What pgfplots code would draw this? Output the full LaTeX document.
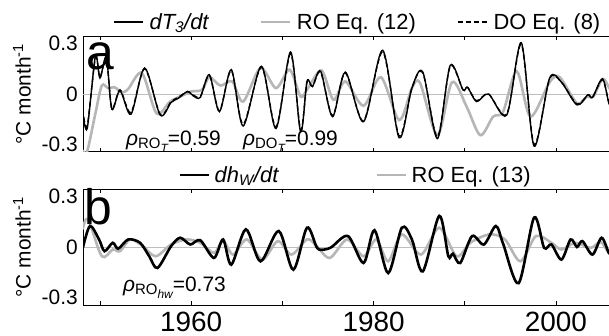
\documentclass[border=0pt]{standalone}
\usepackage{fontspec}
\setmainfont{Liberation Sans}
\usepackage{pgfplots}
\pgfplotsset{compat=1.18}
\definecolor{rogray}{RGB}{182,182,182}
\definecolor{zerogray}{RGB}{190,190,190}
\newcommand{\fs}[1]{\fontsize{#1}{#1}\selectfont}
\begin{document}
\begin{tikzpicture}
\useasboundingbox (0bp,0bp) rectangle (609bp,336bp);
\pgfplotsset{
  panel/.style={
    scale only axis, width=532bp, height=116bp,
    xmin=1948.14, xmax=2006.47, ymin=-0.345, ymax=0.345,
    xtick={1950,1960,1970,1980,1990,2000},
    ytick={-0.3,0,0.3}, yticklabels={-0.3,0,0.3},
    tick align=inside, major tick length=4bp,
    ytick style={draw=none},
    xtick style={black, line width=0.8bp},
    axis line style={line width=1bp},
    yticklabel style={font=\fs{21}, inner sep=0pt, xshift=-5bp},
    xticklabel style={font=\fs{28}, inner sep=0pt, yshift=-7bp},
    ylabel={°C month\textsuperscript{-1}},
    ylabel style={font=\fs{21}, at={(axis description cs:-0.1147,0.5)}, anchor=center},
    legend image code/.code={\draw[##1] (0bp,0bp) -- (29bp,0bp);},
    legend style={draw=none, fill=none, inner sep=0pt, outer sep=0pt,
      font=\fs{22}, nodes={inner sep=0pt}, cells={anchor=west}},
  }
}
% ---------------- panel a ----------------
\begin{axis}[panel, at={(83bp,184bp)}, anchor=south west, xticklabels={},
  legend columns=3,
  legend style={at={(axis description cs:0.0564,1.12)}, anchor=west,
    /tikz/column 1/.style={column sep=6bp},
    /tikz/column 2/.style={column sep=50bp},
    /tikz/column 3/.style={column sep=6bp},
    /tikz/column 4/.style={column sep=41bp},
    /tikz/column 5/.style={column sep=6bp}}]
\addlegendimage{black, line width=1.6bp}
\addlegendentry{\textit{dT\textsubscript{3}/dt}}
\addlegendimage{rogray, line width=2.6bp}
\addlegendentry{RO Eq. (12)}
\addlegendimage{black, line width=1.6bp, dash pattern=on 5bp off 3bp}
\addlegendentry{DO Eq. (8)}
\addplot[zerogray, line width=0.8bp, forget plot] coordinates {(1940,0) (2010,0)};
% RO Eq. (12)
\addplot[rogray, line width=2.6bp, smooth, forget plot] coordinates {
(1948.1,-0.335) (1948.6,-0.34) (1949.5,-0.115) (1950.2,0.05) (1950.9,0.035)
(1951.6,0.04) (1952.4,0.01) (1953.1,0.03) (1954.6,0.125) (1956.2,-0.115)
(1957.7,-0.045) (1959.0,-0.01) (1960.0,0.015) (1961.2,0.025) (1962.0,0.10)
(1963.2,0.05) (1964.5,0.075) (1965.7,-0.045) (1967.6,0.155) (1969.3,0.035)
(1970.8,0.145) (1972.0,-0.015) (1972.8,0.035) (1974.3,0.14) (1975.6,-0.035)
(1976.9,0.075) (1978.9,-0.07) (1980.8,0.10) (1982.8,-0.155) (1984.2,0.035)
(1985.1,0.065) (1987.0,-0.245) (1988.6,0.07) (1990.2,-0.075) (1991.7,-0.245)
(1993.1,-0.135) (1994.2,-0.105) (1995.7,0.135) (1997.2,-0.135) (1999.3,0.07)
(2000.4,0.10) (2002.3,-0.055) (2003.4,-0.015) (2004.1,-0.015) (2005.1,0.09)
(2005.8,0.04) (2006.4,-0.02)};
% dT3/dt
\addplot[black, line width=1.4bp, smooth, forget plot] coordinates {
(1948.1,-0.10) (1948.6,-0.205) (1949.5,0.225) (1950.0,0.095) (1950.7,0.22)
(1951.3,-0.09) (1952.2,0.02) (1953.4,-0.12) (1954.9,0.155) (1956.6,-0.125)
(1957.8,-0.05) (1958.6,-0.025) (1959.6,0.015) (1960.2,-0.01) (1961.0,-0.02)
(1962.0,0.115) (1963.1,-0.105) (1964.4,0.145) (1965.7,-0.19) (1967.7,0.165)
(1969.3,-0.205) (1970.9,0.25) (1972.0,-0.225) (1972.7,0.075) (1973.3,0.045)
(1974.2,0.135) (1975.5,-0.135) (1976.9,0.13) (1978.9,-0.165) (1981.0,0.26)
(1982.8,-0.26) (1984.2,0.035) (1985.4,0.13) (1987.0,-0.265) (1988.4,0.17)
(1989.8,0.025) (1990.3,0.04) (1991.3,-0.045) (1992.6,0.0) (1994.6,-0.125)
(1996.2,0.305) (1997.6,-0.31) (1999.3,0.095) (2000.6,0.07) (2002.3,-0.065)
(2003.5,-0.005) (2004.0,-0.02) (2005.1,0.09) (2005.8,-0.055) (2006.4,-0.12)};
% DO Eq. (8)
\addplot[black, line width=1.4bp, dash pattern=on 5bp off 3bp, smooth, forget plot] coordinates {
(1948.1,-0.09) (1948.6,-0.19) (1949.5,0.215) (1950.0,0.10) (1950.7,0.21)
(1951.3,-0.085) (1952.2,0.025) (1953.4,-0.11) (1954.9,0.15) (1956.6,-0.12)
(1957.8,-0.045) (1958.6,-0.02) (1959.6,0.015) (1960.2,-0.005) (1961.0,-0.015)
(1962.0,0.11) (1963.1,-0.10) (1964.4,0.14) (1965.7,-0.18) (1967.7,0.16)
(1969.3,-0.195) (1970.9,0.24) (1972.0,-0.215) (1972.7,0.07) (1973.3,0.045)
(1974.2,0.13) (1975.5,-0.13) (1976.9,0.125) (1978.9,-0.16) (1981.0,0.25)
(1982.8,-0.25) (1984.2,0.035) (1985.4,0.125) (1987.0,-0.255) (1988.4,0.165)
(1989.8,0.025) (1990.3,0.04) (1991.3,-0.04) (1992.6,0.0) (1994.6,-0.12)
(1996.2,0.295) (1997.6,-0.30) (1999.3,0.09) (2000.6,0.07) (2002.3,-0.06)
(2003.5,-0.005) (2004.0,-0.02) (2005.1,0.085) (2005.8,-0.05) (2006.4,-0.11)};
\end{axis}
% ---------------- panel b ----------------
\begin{axis}[panel, at={(83bp,31bp)}, anchor=south west,
  xticklabels={,1960,,1980,,2000},
  legend columns=2,
  legend style={at={(axis description cs:0.1805,1.12)}, anchor=west,
    /tikz/column 1/.style={column sep=4bp},
    /tikz/column 2/.style={column sep=97bp},
    /tikz/column 3/.style={column sep=4bp}}]
\addlegendimage{black, line width=2.6bp}
\addlegendentry{\textit{dh\textsubscript{W}/dt}}
\addlegendimage{rogray, line width=2.6bp}
\addlegendentry{RO Eq. (13)}
\addplot[zerogray, line width=0.8bp, forget plot] coordinates {(1940,0) (2010,0)};
% RO Eq. (13)
\addplot[rogray, line width=2.6bp, smooth, forget plot] coordinates {
(1948.1,0.105) (1948.7,0.165) (1950.2,-0.055) (1951.4,-0.015) (1952.2,-0.025)
(1953.3,0.045) (1954.6,0.01) (1956.1,-0.055) (1957.8,0.015) (1959.5,0.045)
(1961.0,0.025) (1962.5,-0.035) (1963.5,0.035) (1964.6,-0.045) (1966.1,0.045)
(1967.8,-0.075) (1969.5,0.035) (1971.0,-0.045) (1972.7,0.045) (1973.7,0.01)
(1975.2,-0.065) (1977.1,0.045) (1978.9,-0.055) (1980.3,0.045) (1981.6,-0.085)
(1983.1,0.075) (1985.2,-0.045) (1987.2,0.115) (1989.1,-0.055) (1990.6,0.025)
(1992.7,0.075) (1994.4,0.045) (1996.1,-0.085) (1997.8,0.065) (1999.5,0.025)
(2000.6,-0.015) (2002.1,0.025) (2003.8,-0.005) (2004.9,0.03) (2005.8,-0.035)
(2006.4,-0.04)};
% dhW/dt
\addplot[black, line width=2.6bp, smooth, forget plot] coordinates {
(1948.1,-0.01) (1948.9,0.125) (1949.9,0.045) (1950.5,-0.025) (1951.4,0.025)
(1952.0,-0.01) (1953.1,0.045) (1954.4,0.025) (1955.4,-0.055) (1956.3,-0.125)
(1957.8,0.005) (1958.8,0.055) (1959.9,0.015) (1961.0,0.04) (1962.5,-0.065)
(1963.5,0.045) (1964.4,-0.105) (1966.0,0.105) (1967.6,-0.085) (1969.6,0.095)
(1971.2,-0.135) (1972.7,0.115) (1973.8,-0.005) (1974.6,-0.015) (1975.4,0.0)
(1977.2,0.065) (1978.9,-0.095) (1980.1,0.10) (1981.6,-0.155) (1983.1,0.115)
(1984.2,0.045) (1985.4,-0.145) (1987.2,0.185) (1988.2,-0.055) (1988.7,-0.04)
(1989.5,-0.095) (1990.8,0.065) (1992.1,0.015) (1993.4,0.125) (1994.2,0.02)
(1995.9,-0.215) (1997.6,0.175) (1998.7,-0.005) (1999.5,0.015) (2000.6,-0.075)
(2001.6,0.045) (2002.3,0.0) (2002.9,0.035) (2004.0,-0.045) (2005.0,0.055)
(2005.8,-0.035) (2006.4,-0.06)};
\end{axis}
% panel letters and correlation annotations
\node[anchor=base west, inner sep=0pt, font=\fs{50}] at (86bp,266bp) {a};
\node[anchor=base west, inner sep=0pt, font=\fs{50}] at (84bp,111bp) {b};
\node[anchor=base west, inner sep=0pt, font=\fs{21}] at (126bp,190bp)
  {{\itshape ρ}\raisebox{-3bp}{\fs{15}RO\raisebox{-4bp}{\fs{12}\itshape T}}=0.59};
\node[anchor=base west, inner sep=0pt, font=\fs{21}] at (243bp,190bp)
  {{\itshape ρ}\raisebox{-3bp}{\fs{15}DO\raisebox{-4bp}{\fs{12}\itshape T}}=0.99};
\node[anchor=base west, inner sep=0pt, font=\fs{21}] at (123bp,44bp)
  {{\itshape ρ}\raisebox{-3bp}{\fs{15}RO\raisebox{-4bp}{\fs{12}\itshape hw}}=0.73};
\end{tikzpicture}
\end{document}
